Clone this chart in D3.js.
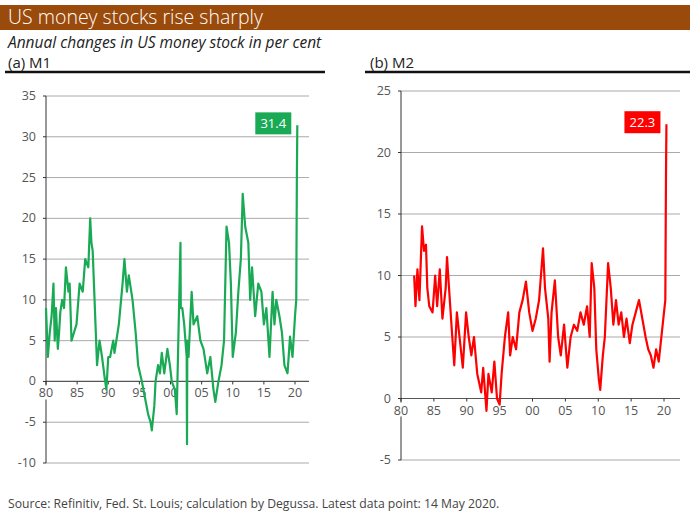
<!DOCTYPE html>
<html><head><meta charset="utf-8">
<script src="https://cdn.jsdelivr.net/npm/d3@7"></script>
<style>body{margin:0;background:#fff;font-family:"Open Sans",sans-serif}</style>
</head><body><svg id="c" width="693" height="515"></svg>
<script>
const title = "US money stocks rise sharply";
const subtitle = "Annual changes in US money stock in per cent";
const source = "Source: Refinitiv, Fed. St. Louis; calculation by Degussa. Latest data point: 14 May 2020.";
const xTickLabels = ["80","85","90","95","00","05","10","15","20"];
const m1Years = [1980,1980.3,1980.6,1980.9,1981.2,1981.4,1981.6,1981.9,1982.1,1982.3,1982.6,1982.9,1983.2,1983.6,1983.8,1984.1,1984.5,1984.9,1985.4,1985.9,1986.1,1986.3,1986.8,1987.1,1987.3,1987.5,1987.8,1988.2,1988.6,1989.0,1989.5,1989.7,1990.0,1990.3,1990.8,1991.0,1991.7,1992.3,1992.6,1993.0,1993.3,1993.9,1994.4,1994.8,1995.4,1995.9,1996.4,1996.8,1997.0,1997.4,1997.6,1998.0,1998.3,1998.6,1999.0,1999.5,1999.9,2000.2,2000.7,2001.0,2001.6,2001.65,2001.9,2002.2,2002.6,2002.65,2002.7,2002.9,2003.4,2003.7,2004.3,2004.8,2005.3,2005.9,2006.4,2006.9,2007.2,2007.7,2008.2,2008.6,2009.0,2009.4,2009.7,2010.0,2010.5,2010.9,2011.3,2011.6,2012.0,2012.5,2012.8,2013.1,2013.6,2014.1,2014.6,2015.0,2015.4,2015.9,2016.4,2016.7,2017.0,2017.5,2017.9,2018.3,2018.8,2019.2,2019.6,2020.0,2020.2,2020.3,2020.37];
const m1Values = [9,3,6,8,12,5,9,4,6,8.5,10,9,14,11,12,5,6,7,12,11,13,15,14,20,17,16,10,2,5,3,0,-1,3,3,5,3.5,7,12,15,11,13,10,6,2,0,-2,-4,-5,-6,-3,0,2,1,3.5,1,4,2,0,-1,-4,17,9,9,7,3,-7.7,5,3,11,7,8,5,4,1,3,-1,-2.5,0,2,5,19,17,12,3,6,11,15,23,19,17,10,14,8,12,11,7,9,3,11,7,10,8,6,2,1,5.5,3,8,10,25,31.4];
const m2Years = [1982.0,1982.2,1982.5,1982.8,1983.2,1983.5,1983.8,1984.0,1984.3,1984.8,1985.2,1985.5,1985.9,1986.3,1986.8,1987.0,1987.3,1987.8,1988.1,1988.5,1988.9,1989.4,1989.9,1990.3,1990.7,1991.1,1991.6,1992.2,1992.5,1993.0,1993.3,1993.8,1994.2,1994.6,1995.0,1995.3,1995.8,1996.3,1996.6,1997.0,1997.5,1998.0,1998.5,1999.0,1999.5,2000.0,2000.5,2001.0,2001.6,2001.9,2002.4,2002.6,2002.9,2003.4,2003.9,2004.3,2004.8,2005.3,2005.8,2006.3,2006.8,2007.3,2007.8,2008.3,2008.7,2009.0,2009.4,2009.7,2010.1,2010.3,2010.7,2011.0,2011.5,2011.9,2012.3,2012.7,2013.1,2013.5,2013.9,2014.3,2014.8,2015.2,2015.7,2016.2,2016.7,2017.2,2017.6,2018.0,2018.4,2018.8,2019.2,2019.6,2020.0,2020.2,2020.3,2020.37];
const m2Values = [10,7.5,10.5,8,14,12,12.5,9,7.5,7,10,7.5,10.5,6.5,9,11.5,9,5,2.7,7,5,2.5,7,5,3.5,5,2,0.5,2.5,-1,2,0.5,3,0,-0.5,2,5,7,3.5,5,4,7,8,9.5,7,5.5,6.5,8,12.2,9,6.5,3,7,9.6,5,3.5,6,2.5,5,6,5.5,7,6,7.5,5,11,9,4,1.5,0.7,3.5,5,11,9,6,8,6,7,5,6.5,4.5,6,7,8,6.5,5,4,3.5,2.5,4,3,5,7,8,18,22.3];
const m1Ticks = [-10,-5,0,5,10,15,20,25,30,35];
const m2Ticks = [-5,0,5,10,15,20,25];

const svg = d3.select("#c");
svg.append("rect").attr("x",0).attr("y",5).attr("width",690).attr("height",25).attr("fill","#9a4a0a");
svg.append("text").attr("x",8).attr("y",24).attr("fill","#fff").attr("font-size",19.5).attr("font-weight",300).text(title);
svg.append("text").attr("x",8).attr("y",48).attr("font-size",15.5).attr("font-style","italic").attr("fill","#222").text(subtitle);
svg.append("text").attr("x",8).attr("y",68).attr("font-size",15).attr("fill","#222").text("(a) M1");
svg.append("text").attr("x",370).attr("y",68).attr("font-size",15).attr("fill","#222").text("(b) M2");
svg.append("line").attr("x1",5).attr("x2",325).attr("y1",72).attr("y2",72).attr("stroke","#111").attr("stroke-width",2.5);
svg.append("line").attr("x1",365).attr("x2",690).attr("y1",72).attr("y2",72).attr("stroke","#111").attr("stroke-width",2.5);
svg.append("text").attr("x",8).attr("y",508).attr("font-size",12.2).attr("fill","#444").text(source);

function panel(cfg){
  const x = d3.scaleLinear().domain([1980,2020]).range([cfg.x0,cfg.x20]);
  const y = d3.scaleLinear().domain(cfg.dom).range(cfg.yr);
  const g = svg.append("g");
  g.selectAll(".grid").data(cfg.ticks).join("line").attr("x1",cfg.x0).attr("x2",cfg.xr)
    .attr("y1",d=>y(d)).attr("y2",d=>y(d)).attr("stroke",d=>d===0?"#555":"#aaa").attr("stroke-width",d=>d===0?1.2:1);
  g.append("line").attr("x1",cfg.x0).attr("x2",cfg.x0).attr("y1",y(cfg.dom[0])).attr("y2",y(cfg.dom[1])).attr("stroke","#333");
  g.selectAll(".yt").data(cfg.ticks).join("text").attr("x",cfg.x0-10).attr("y",d=>y(d)+4).attr("text-anchor","end")
    .attr("font-size",12.5).attr("fill","#555").text(d=>d);
  g.selectAll(".ytk").data(cfg.ticks).join("line").attr("x1",cfg.x0-3).attr("x2",cfg.x0).attr("y1",d=>y(d)).attr("y2",d=>y(d)).attr("stroke","#333");
  g.append("rect").attr("x",cfg.x0-12).attr("y",y(0)+4).attr("width",cfg.xr-cfg.x0+12).attr("height",14).attr("fill","#fff");
  g.selectAll(".xt").data(xTickLabels).join("text").attr("x",(d,i)=>x(1980+5*i)).attr("y",y(0)+16).attr("text-anchor","middle")
    .attr("font-size",12.5).attr("fill","#555").text(d=>d);
  g.selectAll(".xtk").data(xTickLabels).join("line").attr("x1",(d,i)=>x(1980+5*i)).attr("x2",(d,i)=>x(1980+5*i)).attr("y1",y(0)).attr("y2",y(0)+3).attr("stroke","#333");
  const data = cfg.years.map((yy,i)=>[yy,cfg.vals[i]]);
  g.append("path").datum(data).attr("d",d3.line().x(d=>x(d[0])).y(d=>y(d[1]))).attr("fill","none").attr("stroke",cfg.color).attr("stroke-width",2.2).attr("stroke-linejoin","round");
  const last = data[data.length-1];
  g.append("rect").attr("x",x(last[0])-42).attr("y",y(last[1])-13).attr("width",36).attr("height",22).attr("fill",cfg.color);
  g.append("text").attr("x",x(last[0])-24).attr("y",y(last[1])+3).attr("text-anchor","middle").attr("font-size",13).attr("fill","#fff").text(last[1]);
}
panel({x0:46,x20:295,xr:309,dom:[-10,35],yr:[463,96],ticks:m1Ticks,years:m1Years,vals:m1Values,color:"#1aaa55"});
panel({x0:401,x20:664,xr:680,dom:[-5,25],yr:[460,91],ticks:m2Ticks,years:m2Years,vals:m2Values,color:"#ff0000"});
</script></body></html>
